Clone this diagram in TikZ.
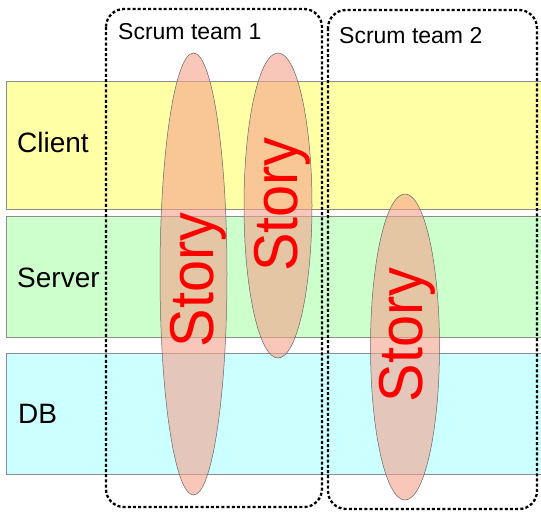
\documentclass[tikz,border=0pt]{standalone}
\usepackage{fontspec}
\setmainfont{Liberation Sans}
\usetikzlibrary{shapes.geometric}
\definecolor{bandY}{RGB}{255,255,165}
\definecolor{bandG}{RGB}{204,255,204}
\definecolor{bandB}{RGB}{204,255,255}
\definecolor{storyfill}{RGB}{245,160,140}
\begin{document}
\begin{tikzpicture}[x=1pt,y=-1pt,
  band/.style={draw=black!45,line width=0.6pt},
  story/.style={ellipse,draw=black!60,line width=0.5pt,fill=storyfill,fill opacity=0.6,inner sep=0pt},
  team/.style={draw=black,line width=2.3pt,dash pattern=on 3pt off 2.2pt,rounded corners=18pt},
  lane/.style={anchor=base west,inner sep=0pt,font=\fontsize{28}{30}\selectfont,text=black},
  teamlabel/.style={anchor=base west,inner sep=0pt,font=\fontsize{23}{26}\selectfont,text=black},
  storytext/.style={rotate=90,anchor=base,inner sep=0pt,text=red,font=\fontsize{62}{66}\selectfont}]
\useasboundingbox (0,0) rectangle (541,512);
\fill[white] (0,0) rectangle (541,512);
% bands
\draw[band,fill=bandY] (6,81) rectangle (545,209);
\draw[band,fill=bandG] (6,216) rectangle (545,337);
\draw[band,fill=bandB] (6,353) rectangle (545,474);
% stories
\node[story,minimum width=67pt,minimum height=442pt] (s1) at (193.5,274) {};
\node[story,minimum width=68pt,minimum height=305pt] (s2) at (278,205.5) {};
\node[story,minimum width=69pt,minimum height=306pt] (s3) at (405,347) {};
\node[storytext] (t1) at (213,280) {\scalebox{0.93}[1]{Story}};
\node[storytext] (t2) at (297,204.5) {\scalebox{0.93}[1]{Story}};
\node[storytext] (t3) at (422,335) {\scalebox{0.93}[1]{Story}};
% teams
\draw[team] (106,9) rectangle (322,507);
\draw[team] (328,10) rectangle (537,509);
\node[teamlabel] (tl1) at (118,39) {Scrum team 1};
\node[teamlabel] (tl2) at (339,43) {Scrum team 2};
% lanes
\node[lane] (client) at (17,152) {Client};
\node[lane] (server) at (17,287) {Server};
\node[lane] (db) at (18,423) {DB};
\end{tikzpicture}
\end{document}
